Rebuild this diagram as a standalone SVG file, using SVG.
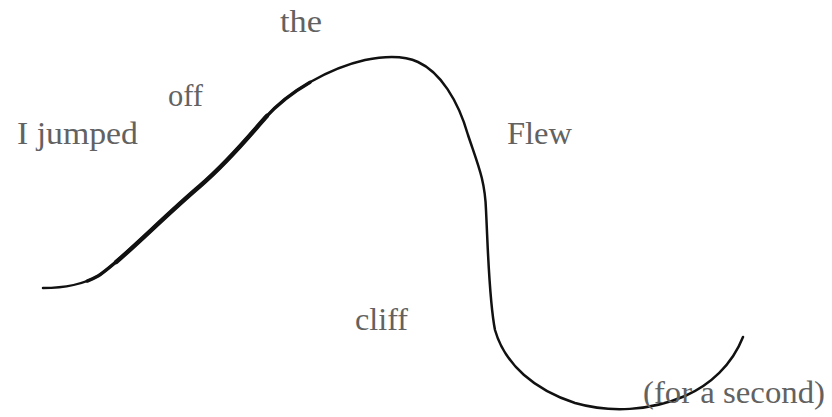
<svg xmlns="http://www.w3.org/2000/svg" width="832" height="417" viewBox="0 0 832 417">
  <style>
    .lbl { font-family: "Liberation Serif", "DejaVu Serif", serif; font-size: 31px; fill: #626262; }
    .curve { fill: none; stroke: #111; stroke-linecap: round; stroke-linejoin: round; }
  </style>
  <defs>
    <path id="wave" d="M43,288 C65,288 82,285 98,276 C120,262 160,220 200,186 C230,160 250,135 265,118 C290,90 330,68 365,60 C385,56 405,56 418,62 C440,72 458,100 468,135 C478,165 485,180 486,210 C488,250 489,300 495,330 C505,365 535,390 575,403 C610,413 650,411 685,396 C710,385 732,365 743,337"/>
  </defs>
  <rect width="832" height="417" fill="#fff"/>
  <g id="connectors">
    <use href="#wave" class="curve" stroke-width="2.5"/>
    <use href="#wave" class="curve" stroke-width="3.4" stroke-dasharray="300 5000" stroke-dashoffset="-45"/>
    <use href="#wave" class="curve" stroke-width="4.4" stroke-dasharray="210 5000" stroke-dashoffset="-80"/>
  </g>
  <g id="n-i-jumped"><text class="lbl" x="17" y="144" textLength="121" lengthAdjust="spacingAndGlyphs">I jumped</text></g>
  <g id="n-off"><text class="lbl" x="168" y="106" textLength="35" lengthAdjust="spacingAndGlyphs">off</text></g>
  <g id="n-the"><text class="lbl" x="280" y="32" textLength="42" lengthAdjust="spacingAndGlyphs">the</text></g>
  <g id="n-flew"><text class="lbl" x="507" y="144" textLength="65" lengthAdjust="spacingAndGlyphs">Flew</text></g>
  <g id="n-cliff"><text class="lbl" x="355" y="330" textLength="53" lengthAdjust="spacingAndGlyphs">cliff</text></g>
  <g id="n-for-a-second"><text class="lbl" x="643" y="403" textLength="182" lengthAdjust="spacingAndGlyphs">(for a second)</text></g>
</svg>
